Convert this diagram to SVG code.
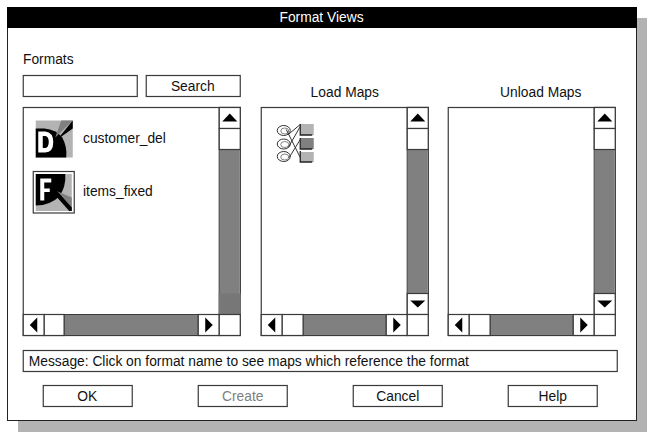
<svg xmlns="http://www.w3.org/2000/svg" width="654" height="438" viewBox="0 0 654 438">
<style>
text{font-family:"Liberation Sans",Arial,sans-serif;font-size:13.8px;fill:#111}
.m{text-anchor:middle}
.b{fill:#fff;stroke:#3a3a3a;stroke-width:1.2}
.g{fill:#808080;stroke:#3a3a3a;stroke-width:1}
.a{fill:#000}
.l{fill:none;stroke:#333;stroke-width:1}
</style>
<defs>
<g id="vbar">
<rect class="b" x="0" y="0" width="21" height="207"/>
<rect x="0.5" y="42" width="20" height="165" fill="#808080"/>
<rect class="b" x="0" y="0" width="21" height="21"/>
<rect class="b" x="0" y="21" width="21" height="21"/>
<path class="a" d="M3 14H18L10.500 6Z"/>
</g>
<g id="down">
<rect class="b" x="0" y="0" width="21" height="21"/>
<path class="a" d="M3 7H18L10.500 14Z"/>
</g>
<g id="lb"><rect class="b" x="0" y="0" width="21" height="21"/><path class="a" d="M14 3V18L6.500 10.500Z"/></g>
<g id="rb"><rect class="b" x="0" y="0" width="21" height="21"/><path class="a" d="M7 3V18L14.500 10.500Z"/></g>
<g id="ring">
<ellipse cx="6.500" cy="5" rx="6.500" ry="5" fill="#fff" stroke="#333" stroke-width="1"/>
<ellipse cx="7.500" cy="5.500" rx="4" ry="3" fill="none" stroke="#666" stroke-width="0.8"/>
</g>
<g id="sq"><path d="M0 0V11H12" fill="none" stroke="#222" stroke-width="1.300"/></g>
</defs>
<rect x="18" y="18" width="629" height="414" fill="#b3b3b3"/>
<g id="window">
<rect x="7.500" y="7.500" width="629" height="413" fill="#fff" stroke="#222" stroke-width="1"/>
<rect x="7" y="7" width="630" height="21" fill="#000"/>
<text class="m" x="321.500" y="22" style="fill:#fff">Format Views</text>
</g>
<g id="formats-label"><text x="23" y="64">Formats</text></g>
<g transform="translate(0.25 0.5)">
<g id="search-input"><rect class="b" x="23" y="75" width="114" height="21"/></g>
<g id="search-button"><rect class="b" x="146" y="75" width="94" height="21"/><text class="m" x="192.500" y="90">Search</text></g>
<g id="load-label"><text class="m" x="344.500" y="96">Load Maps</text></g>
<g id="unload-label"><text class="m" x="540.500" y="96">Unload Maps</text></g>

<g id="formats-panel">
<rect class="b" x="23" y="107" width="217" height="228"/>
<use href="#vbar" x="219" y="107"/>
<rect x="218.500" y="293" width="22" height="21" fill="#777"/>
<line x1="23" y1="314" x2="240" y2="314" stroke="#333" stroke-width="1.200"/>
<use href="#lb" x="23" y="314"/>
<rect class="b" x="44" y="314" width="20" height="21"/>
<rect class="g" x="64" y="314" width="134" height="21"/>
<use href="#rb" x="198" y="314"/>
<rect class="b" x="219" y="314" width="21" height="21"/>
</g>
<g id="customer-del">
<rect x="35.500" y="120" width="37" height="37" fill="#b3b3b3"/>
<path d="M35.500 128H44Q56 129 62 137Q67 146 66 157H35.500Z" fill="#000"/>
<path d="M55 137L72.500 120H61Z" fill="#808080"/>
<path d="M57 139L72.500 120V128Z" fill="#000"/>
<path d="M38 131H45Q53 132 53 141.500Q53 152 45 152H38ZM42.500 135.500V147.500H45Q48.500 147 48.500 141.500Q48.500 136 45 135.500Z" fill="#fff" fill-rule="evenodd"/>
<text x="82.750" y="142.500">customer_del</text>
</g>
<g id="items-fixed">
<rect x="33" y="171" width="41" height="41.500" fill="#fff" stroke="#3a3a3a" stroke-width="1.200"/>
<rect x="35.500" y="173.500" width="36" height="37" fill="#b3b3b3"/>
<path d="M35.500 173.500H65Q66 186 59 196Q50 205 35.500 205Z" fill="#000"/>
<path d="M48 187L71.500 197V210.500Z" fill="#808080"/>
<path d="M48 187L52 185L71.500 207V210.500H69Z" fill="#000"/>
<path d="M40 178H51V182H44V188H49.500V191.500H44V200H40Z" fill="#fff"/>
<text x="82.750" y="195.500">items_fixed</text>
</g>

<g id="load-panel">
<rect class="b" x="261" y="107" width="167" height="228"/>
<use href="#vbar" x="407" y="107"/>
<use href="#down" x="407" y="293"/>
<line x1="261" y1="314" x2="428" y2="314" stroke="#333" stroke-width="1.200"/>
<use href="#lb" x="261" y="314"/>
<rect class="b" x="282" y="314" width="21" height="21"/>
<rect class="g" x="303" y="314" width="83" height="21"/>
<use href="#rb" x="386" y="314"/>
<rect class="b" x="407" y="314" width="21" height="21"/>
</g>
<g id="map-icon">
<rect x="300.500" y="123.500" width="13" height="11" fill="#b3b3b3"/>
<rect x="300.500" y="137.500" width="13" height="11" fill="#808080"/>
<rect x="300.500" y="151.500" width="13" height="10" fill="#b3b3b3"/>
<use href="#sq" x="300" y="123.500"/>
<use href="#sq" x="300" y="137.500"/>
<use href="#sq" x="300" y="150.500"/>
<use href="#ring" x="277" y="125"/>
<use href="#ring" x="277" y="138.500"/>
<use href="#ring" x="277" y="151"/>
<path class="l" d="M288 134L300 124M286 129L300 157M288 147L300 126M289 157L300 139"/>
</g>

<g id="unload-panel">
<rect class="b" x="448" y="107" width="167" height="228"/>
<use href="#vbar" x="594" y="107"/>
<use href="#down" x="594" y="293"/>
<line x1="448" y1="314" x2="615" y2="314" stroke="#333" stroke-width="1.200"/>
<use href="#lb" x="448" y="314"/>
<rect class="b" x="469" y="314" width="21" height="21"/>
<rect class="g" x="490" y="314" width="83" height="21"/>
<use href="#rb" x="573" y="314"/>
<rect class="b" x="594" y="314" width="21" height="21"/>
</g>

<g id="message"><rect class="b" x="23" y="350" width="594" height="21"/><text x="28.500" y="365.500">Message: Click on format name to see maps which reference the format</text></g>
<g id="ok"><rect class="b" x="43" y="385" width="89" height="21"/><text class="m" x="87" y="400">OK</text></g>
<g id="create"><rect class="b" x="198" y="385" width="89" height="21"/><text class="m" x="242.500" y="400.500" style="fill:#808080">Create</text></g>
<g id="cancel"><rect class="b" x="353" y="385" width="89" height="21"/><text class="m" x="397.500" y="400.500">Cancel</text></g>
<g id="help"><rect class="b" x="508" y="385" width="89" height="21"/><text class="m" x="552.500" y="400.500">Help</text></g>
</g>
</svg>
